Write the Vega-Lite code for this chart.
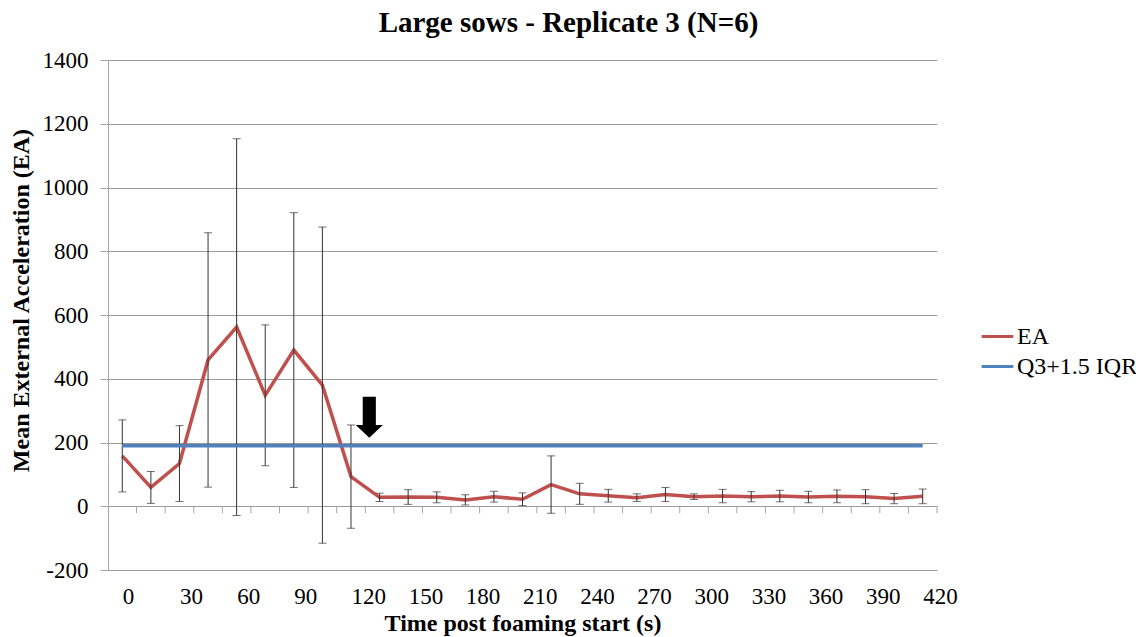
{
  "$schema": "https://vega.github.io/schema/vega-lite/v6.json",
  "width": 829,
  "height": 510,
  "autosize": "none",
  "padding": {"left": 108, "top": 60, "right": 199, "bottom": 67},
  "background": "white",
  "title": {
    "text": "Large sows - Replicate 3 (N=6)",
    "font": "Liberation Serif",
    "fontSize": 29,
    "fontWeight": "bold",
    "color": "black",
    "anchor": "middle",
    "dx": 46,
    "offset": 11
  },
  "datasets": {
    "main": [
      {"t": 0, "series": "EA", "value": 158, "err": 113},
      {"t": 15, "series": "EA", "value": 59, "err": 50},
      {"t": 30, "series": "EA", "value": 134, "err": 119},
      {"t": 45, "series": "EA", "value": 459, "err": 399},
      {"t": 60, "series": "EA", "value": 562, "err": 591},
      {"t": 75, "series": "EA", "value": 348, "err": 221},
      {"t": 90, "series": "EA", "value": 490, "err": 431},
      {"t": 105, "series": "EA", "value": 380, "err": 496},
      {"t": 120, "series": "EA", "value": 93, "err": 162},
      {"t": 135, "series": "EA", "value": 28, "err": 13},
      {"t": 150, "series": "EA", "value": 29, "err": 23},
      {"t": 165, "series": "EA", "value": 28, "err": 17},
      {"t": 180, "series": "EA", "value": 20, "err": 16},
      {"t": 195, "series": "EA", "value": 30, "err": 17},
      {"t": 210, "series": "EA", "value": 22, "err": 20},
      {"t": 225, "series": "EA", "value": 68, "err": 90},
      {"t": 240, "series": "EA", "value": 39, "err": 33},
      {"t": 255, "series": "EA", "value": 33, "err": 20},
      {"t": 270, "series": "EA", "value": 27, "err": 12},
      {"t": 285, "series": "EA", "value": 37, "err": 22},
      {"t": 300, "series": "EA", "value": 30, "err": 9},
      {"t": 315, "series": "EA", "value": 32, "err": 21},
      {"t": 330, "series": "EA", "value": 30, "err": 16},
      {"t": 345, "series": "EA", "value": 32, "err": 18},
      {"t": 360, "series": "EA", "value": 29, "err": 18},
      {"t": 375, "series": "EA", "value": 31, "err": 20},
      {"t": 390, "series": "EA", "value": 30, "err": 22},
      {"t": 405, "series": "EA", "value": 24, "err": 16},
      {"t": 420, "series": "EA", "value": 31, "err": 23},
      {"t": 0, "series": "Q3+1.5 IQR", "value": 190},
      {"t": 15, "series": "Q3+1.5 IQR", "value": 190},
      {"t": 30, "series": "Q3+1.5 IQR", "value": 190},
      {"t": 45, "series": "Q3+1.5 IQR", "value": 190},
      {"t": 60, "series": "Q3+1.5 IQR", "value": 190},
      {"t": 75, "series": "Q3+1.5 IQR", "value": 190},
      {"t": 90, "series": "Q3+1.5 IQR", "value": 190},
      {"t": 105, "series": "Q3+1.5 IQR", "value": 190},
      {"t": 120, "series": "Q3+1.5 IQR", "value": 190},
      {"t": 135, "series": "Q3+1.5 IQR", "value": 190},
      {"t": 150, "series": "Q3+1.5 IQR", "value": 190},
      {"t": 165, "series": "Q3+1.5 IQR", "value": 190},
      {"t": 180, "series": "Q3+1.5 IQR", "value": 190},
      {"t": 195, "series": "Q3+1.5 IQR", "value": 190},
      {"t": 210, "series": "Q3+1.5 IQR", "value": 190},
      {"t": 225, "series": "Q3+1.5 IQR", "value": 190},
      {"t": 240, "series": "Q3+1.5 IQR", "value": 190},
      {"t": 255, "series": "Q3+1.5 IQR", "value": 190},
      {"t": 270, "series": "Q3+1.5 IQR", "value": 190},
      {"t": 285, "series": "Q3+1.5 IQR", "value": 190},
      {"t": 300, "series": "Q3+1.5 IQR", "value": 190},
      {"t": 315, "series": "Q3+1.5 IQR", "value": 190},
      {"t": 330, "series": "Q3+1.5 IQR", "value": 190},
      {"t": 345, "series": "Q3+1.5 IQR", "value": 190},
      {"t": 360, "series": "Q3+1.5 IQR", "value": 190},
      {"t": 375, "series": "Q3+1.5 IQR", "value": 190},
      {"t": 390, "series": "Q3+1.5 IQR", "value": 190},
      {"t": 405, "series": "Q3+1.5 IQR", "value": 190},
      {"t": 420, "series": "Q3+1.5 IQR", "value": 190}
    ],
    "boundaries": [
      {"t": 7.5}, {"t": 22.5}, {"t": 37.5}, {"t": 52.5}, {"t": 67.5}, {"t": 82.5},
      {"t": 97.5}, {"t": 112.5}, {"t": 127.5}, {"t": 142.5}, {"t": 157.5}, {"t": 172.5},
      {"t": 187.5}, {"t": 202.5}, {"t": 217.5}, {"t": 232.5}, {"t": 247.5}, {"t": 262.5},
      {"t": 277.5}, {"t": 292.5}, {"t": 307.5}, {"t": 322.5}, {"t": 337.5}, {"t": 352.5},
      {"t": 367.5}, {"t": 382.5}, {"t": 397.5}, {"t": 412.5}, {"t": 427.5}
    ],
    "arrow": [
      {"t": 129.6, "value": 279}
    ]
  },
  "layer": [
    {
      "data": {"name": "main"},
      "transform": [{"filter": "datum.series === 'EA'"}],
      "mark": {"type": "line", "strokeWidth": 3.5, "interpolate": "linear"},
      "encoding": {
        "x": {
          "field": "t",
          "type": "quantitative",
          "title": "Time post foaming start (s)",
          "scale": {"domain": [-7.5, 427.5], "nice": false, "zero": false},
          "axis": {
            "values": [0, 30, 60, 90, 120, 150, 180, 210, 240, 270, 300, 330, 360, 390, 420],
            "labelExpr": "'' + datum.value",
            "labelAlign": "left",
            "labelFlush": false,
            "labelOverlap": false,
            "labelBound": false,
            "grid": false,
            "ticks": false,
            "domain": false,
            "labelPadding": 15,
            "labelFont": "Liberation Serif",
            "labelFontSize": 23,
            "labelColor": "black",
            "titleFont": "Liberation Serif",
            "titleFontSize": 24,
            "titleFontWeight": "bold",
            "titleColor": "black",
            "titlePadding": 3
          }
        },
        "y": {
          "field": "value",
          "type": "quantitative",
          "title": "Mean External Acceleration (EA)",
          "scale": {"domain": [-200, 1400], "nice": false},
          "axis": {
            "values": [-200, 0, 200, 400, 600, 800, 1000, 1200, 1400],
            "labelExpr": "'' + datum.value",
            "grid": true,
            "gridColor": "#999999",
            "gridWidth": 1,
            "domainColor": "#a6a6a6",
            "tickColor": "#a6a6a6",
            "tickSize": 8,
            "labelPadding": 12,
            "labelFont": "Liberation Serif",
            "labelFontSize": 23,
            "labelColor": "black",
            "titleFont": "Liberation Serif",
            "titleFontSize": 24,
            "titleFontWeight": "bold",
            "titleColor": "black",
            "titlePadding": 9,
            "titleY": 240
          }
        },
        "color": {
          "field": "series",
          "type": "nominal",
          "scale": {"domain": ["EA", "Q3+1.5 IQR"], "range": ["#C0504D", "#4F81BD"]},
          "legend": {
            "orient": "none",
            "legendX": 872,
            "legendY": 259,
            "title": null,
            "symbolType": "stroke",
            "symbolSize": 1000,
            "symbolStrokeWidth": 3,
            "labelFont": "Liberation Serif",
            "labelFontSize": 24,
            "labelColor": "black",
            "labelOffset": 2,
            "rowPadding": 0
          }
        }
      }
    },
    {
      "data": {"name": "main"},
      "transform": [{"filter": "datum.series === 'EA'"}],
      "mark": {
        "type": "errorbar",
        "color": "#333333",
        "thickness": 1,
        "ticks": {"size": 8, "color": "#333333", "strokeWidth": 1}
      },
      "encoding": {
        "x": {"field": "t", "type": "quantitative", "title": "Time post foaming start (s)"},
        "y": {"field": "value", "type": "quantitative", "title": "Mean External Acceleration (EA)"},
        "yError": {"field": "err"}
      }
    },
    {
      "data": {"name": "main"},
      "transform": [{"filter": "datum.series === 'Q3+1.5 IQR'"}],
      "mark": {"type": "line", "strokeWidth": 3.5},
      "encoding": {
        "x": {"field": "t", "type": "quantitative", "title": "Time post foaming start (s)"},
        "y": {"field": "value", "type": "quantitative", "title": "Mean External Acceleration (EA)"},
        "color": {"field": "series", "type": "nominal"}
      }
    },
    {
      "data": {"name": "boundaries"},
      "mark": {"type": "tick", "orient": "vertical", "size": 7, "thickness": 1, "color": "#a6a6a6", "yOffset": 3.5, "opacity": 1},
      "encoding": {
        "x": {"field": "t", "type": "quantitative", "title": "Time post foaming start (s)"},
        "y": {"datum": 0, "type": "quantitative", "title": "Mean External Acceleration (EA)"}
      }
    },
    {
      "data": {"name": "arrow"},
      "mark": {
        "type": "point",
        "shape": "M-0.32,-1L0.32,-1L0.32,0.37L0.66,0.37L0,1L-0.66,0.37L-0.32,0.37Z",
        "filled": true,
        "color": "black",
        "opacity": 1,
        "size": 1681,
        "strokeWidth": 0
      },
      "encoding": {
        "x": {"field": "t", "type": "quantitative", "title": "Time post foaming start (s)"},
        "y": {"field": "value", "type": "quantitative", "title": "Mean External Acceleration (EA)"}
      }
    }
  ],
  "config": {
    "view": {"stroke": null}
  }
}
